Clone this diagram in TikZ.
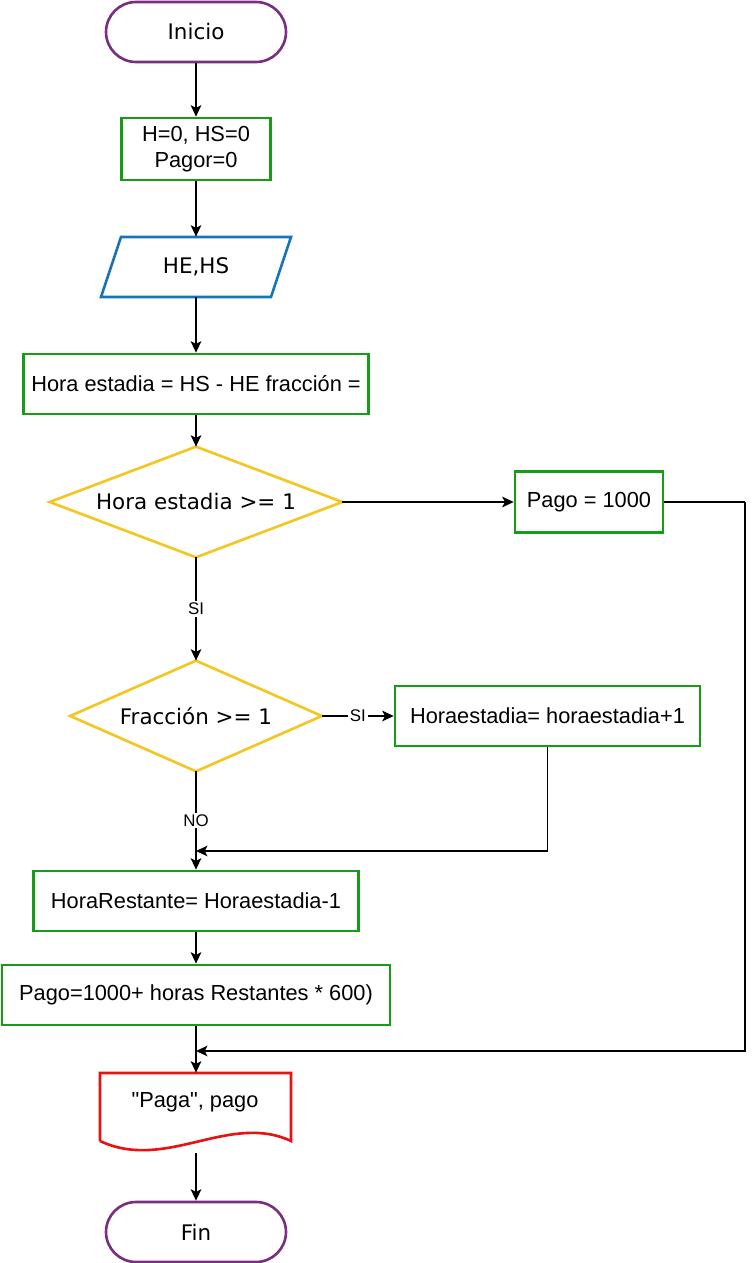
\documentclass[tikz,border=0pt]{standalone}
\usepackage{fontspec}
\setmainfont{Liberation Sans}[Ligatures=TeXOff]
\newfontfamily\dvfont{DejaVu Sans}
\usetikzlibrary{arrows.meta}
\definecolor{cpurple}{HTML}{7B2E80}
\definecolor{cgreen}{HTML}{169C16}
\definecolor{cblue}{HTML}{1873B9}
\definecolor{cyellow}{HTML}{F4C622}
\definecolor{cred}{HTML}{E81212}
\begin{document}
\begin{tikzpicture}[x=0.02cm,y=-0.02cm,
  afont/.style={font=\fontsize{12.4pt}{15pt}\selectfont},
  dfont/.style={font=\dvfont\fontsize{12.2pt}{15pt}\selectfont},
  base/.style={inner sep=0pt, align=center, afont},
  term/.style={base, dfont, draw=cpurple, line width=1.5pt, rounded corners=0.6cm, minimum width=3.6cm, minimum height=1.2cm},
  procbox/.style={base, draw=cgreen, line width=1.5pt, minimum height=1.2cm},
  ghost/.style={base, minimum height=1.2cm},
  shapeline/.style={line width=1.5pt, line join=miter},
  conn/.style={draw=black, line width=1pt, -{Stealth[length=6.5pt,width=6pt,inset=1.5pt]}},
  plain/.style={draw=black, line width=1pt},
  lbl/.style={fill=white, inner sep=1pt, font=\fontsize{9.6pt}{11pt}\selectfont}
]
\useasboundingbox[fill=white] (0,0) rectangle (756,1263);

% terminals
\node[term] (ini) at (196,32) {Inicio};
\node[procbox, minimum width=2.98cm, minimum height=1.24cm] (b1) at (196,149) {H=0, HS=0\\Pagor=0};

% input parallelogram
\node[ghost, dfont, minimum width=3.8cm] (inp) at (196,267) {HE,HS};
\draw[shapeline, draw=cblue] (121,237) -- (291,237) -- (271,297) -- (101,297) -- cycle;

\node[procbox, minimum width=6.9cm] (b2) at (196,384) {Hora estadia = HS - HE fracción =};

% decision 1
\node[ghost, dfont, minimum width=5.84cm, minimum height=2.2cm] (d1) at (196,502) {Hora estadia >= 1};
\draw[shapeline, draw=cyellow] (d1.north) -- (d1.east) -- (d1.south) -- (d1.west) -- cycle;

\node[procbox, minimum width=2.96cm, minimum height=1.22cm] (p1) at (589,502) {Pago = 1000};

% decision 2
\node[ghost, dfont, minimum width=5.02cm, minimum height=2.2cm] (d2) at (196,716) {Fracción >= 1};
\draw[shapeline, draw=cyellow] (d2.north) -- (d2.east) -- (d2.south) -- (d2.west) -- cycle;

\node[procbox, minimum width=6.1cm] (h1) at (547.5,716) {Horaestadia= horaestadia+1};

\node[procbox, minimum width=6.5cm] (hr) at (196,901) {HoraRestante= Horaestadia-1};
\node[procbox, minimum width=7.76cm] (p2) at (196,995) {Pago=1000+ horas Restantes * 600)};

% document
\node[ghost, minimum width=3.82cm, minimum height=1.6cm] (doc) at (196,1113) {};
\node[base] (doct) at (195,1102) {"Paga", pago};
\draw[shapeline, draw=cred] (100,1141) -- (100,1073) -- (291,1073) -- (291,1141)
  .. controls (229,1112) and (166,1172) .. (100,1141);

\node[term] (fin) at (196,1232) {Fin};

% junction coordinates
\coordinate (j1) at (196,851);
\coordinate (j2) at (196,1051);
\coordinate (c1) at (745,502);

% connectors
\draw[conn] (ini.south) -- (b1.north);
\draw[conn] (b1.south) -- (inp.north);
\draw[conn] (inp.south) -- (b2.north);
\draw[conn] (b2.south) -- (d1.north);
\draw[conn] (d1.east) -- (p1.west);
\draw[conn] (d1.south) -- node[lbl] {SI} (d2.north);
\draw[conn] (d2.east) -- node[lbl] {SI} (h1.west);
\draw[conn] (d2.south) -- node[lbl, pos=0.5] {NO} (hr.north);
\draw[conn] (h1.south) |- (j1);
\draw[conn] (hr.south) -- (p2.north);
\draw[conn] (p2.south) -- (doc.north);
\draw[plain] (p1.east) -- (c1);
\draw[conn] (c1) |- (j2);
\draw[conn] (doc.south) -- (fin.north);
\end{tikzpicture}
\end{document}
